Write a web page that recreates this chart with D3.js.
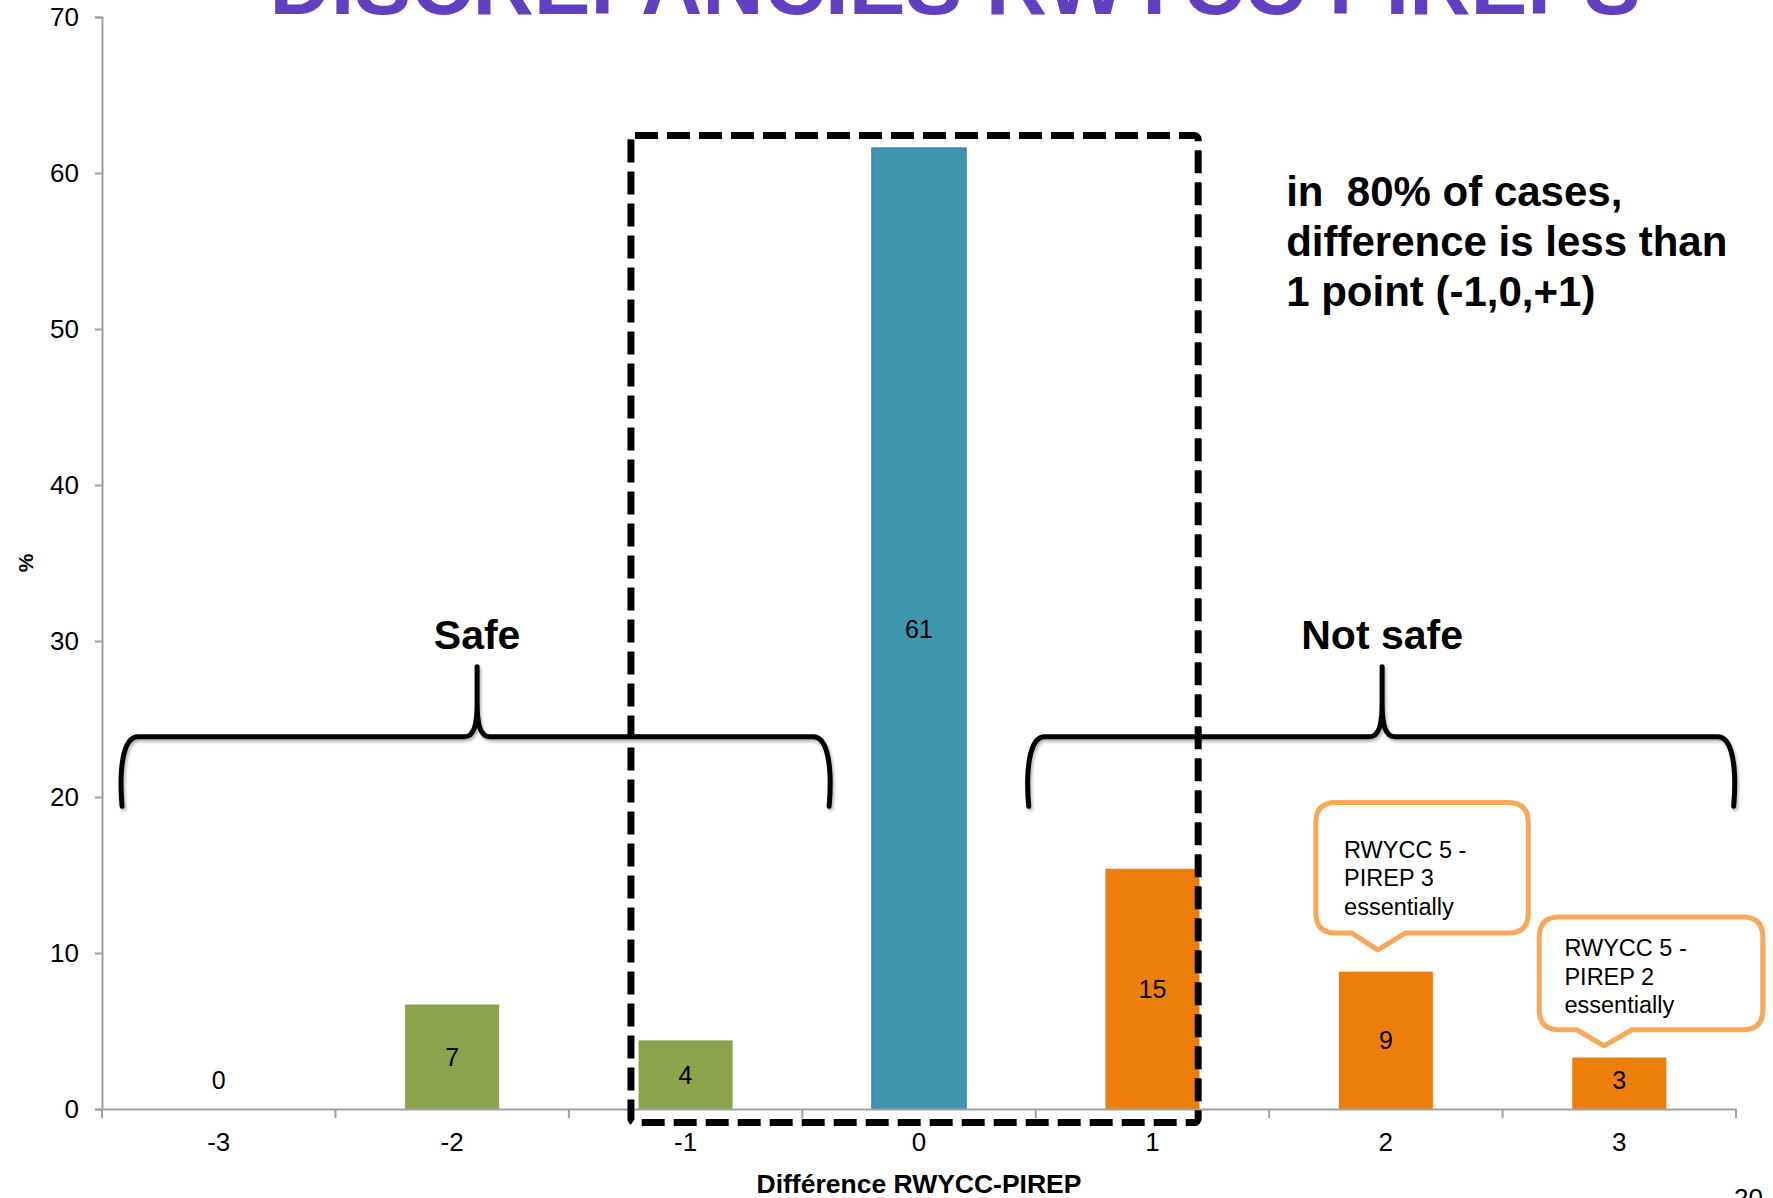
<!DOCTYPE html>
<html>
<head>
<meta charset="utf-8">
<script src="https://cdn.jsdelivr.net/npm/d3@7"></script>
<style>
  html, body { margin: 0; padding: 0; background: #fff; overflow: hidden; }
  svg { display: block; font-family: "Liberation Sans", Arial, Helvetica, sans-serif; }
</style>
</head>
<body>
<svg id="chart" width="1773" height="1198"></svg>
<script>
// Données
const categories = [-3, -2, -1, 0, 1, 2, 3];
const values = [0, 6.7, 4.4, 61.6, 15.4, 8.8, 3.3];
const valueLabels = ['0', '7', '4', '61', '15', '9', '3'];
const barColors = ['#8ba34a', '#8ba34a', '#8ba34a', '#3e96ae', '#ec7f09', '#ec7f09', '#ec7f09'];
const yTicks = [0, 10, 20, 30, 40, 50, 60, 70];

const titleText = 'DISCREPANCIES RWYCC PIREPS';
const xTitle = 'Différence RWYCC-PIREP';
const yTitle = '%';
const noteLines = ['in  80% of cases,', 'difference is less than', '1 point (-1,0,+1)'];
const callout1 = ['RWYCC 5 -', 'PIREP 3', 'essentially'];
const callout2 = ['RWYCC 5 -', 'PIREP 2', 'essentially'];

const svg = d3.select('#chart');
const plotLeft = 102, plotRight = 1736, plotTop = 17, plotBottom = 1109;

const x = d3.scaleBand().domain(categories).range([plotLeft, plotRight]).padding(0);
// position continue en unités de la variable (pour les annotations)
const xc = d3.scaleLinear().domain([-3.5, 3.5]).range([plotLeft, plotRight]);
const y = d3.scaleLinear().domain([0, 70]).range([plotBottom, plotTop]);

const defs = svg.append('defs');
const shadow = defs.append('filter').attr('id', 'shadow')
    .attr('x', '-5%').attr('y', '-20%').attr('width', '110%').attr('height', '140%');
shadow.append('feDropShadow').attr('dx', 1.5).attr('dy', 2.5).attr('stdDeviation', 1.8)
    .attr('flood-color', '#000').attr('flood-opacity', 0.3);

// Titre (coupé en haut)
svg.append('text')
    .attr('x', 955).attr('y', 14)
    .attr('text-anchor', 'middle')
    .attr('font-size', 85).attr('font-weight', 'bold')
    .attr('fill', '#6040c0')
    .text(titleText);

// Axe Y
const yAxis = svg.append('g')
    .attr('transform', `translate(${plotLeft},0)`)
    .call(d3.axisLeft(y).tickValues(yTicks).tickSize(7).tickPadding(16));
yAxis.select('.domain').attr('stroke', '#a0a0a0').attr('stroke-width', 2);
yAxis.selectAll('.tick line').attr('stroke', '#a0a0a0').attr('stroke-width', 2);
yAxis.selectAll('.tick text').attr('font-size', 26).attr('fill', '#000')
    .attr('font-family', '"Liberation Sans", Arial, sans-serif');

// Barres
svg.append('g').selectAll('rect')
    .data(categories)
    .join('rect')
    .attr('x', (d) => x(d) + x.bandwidth() * 0.2985)
    .attr('width', x.bandwidth() * 0.403)
    .attr('y', (d, i) => y(values[i]))
    .attr('height', (d, i) => y(0) - y(values[i]))
    .attr('fill', (d, i) => barColors[i])
    .attr('stroke', (d, i) => i === 3 ? '#4a7ebb' : 'none')
    .attr('stroke-width', 1.5);

// Axe X
const xAxis = svg.append('g')
    .attr('transform', `translate(0,${plotBottom})`)
    .call(d3.axisBottom(x).tickSize(0).tickPadding(24));
xAxis.select('.domain').attr('stroke', '#a0a0a0').attr('stroke-width', 2);
xAxis.selectAll('.tick text').attr('font-size', 26).attr('fill', '#000')
    .attr('font-family', '"Liberation Sans", Arial, sans-serif');
// graduations entre les catégories
const bounds = categories.map((c) => x(c)).concat([x(categories[categories.length - 1]) + x.bandwidth()]);
xAxis.selectAll('.bound')
    .data(bounds)
    .join('line')
    .attr('class', 'bound')
    .attr('x1', (d) => d).attr('x2', (d) => d)
    .attr('y1', 0).attr('y2', 9)
    .attr('stroke', '#a0a0a0').attr('stroke-width', 2);

// Étiquettes des barres
svg.append('g').selectAll('text')
    .data(categories)
    .join('text')
    .attr('x', (d) => x(d) + x.bandwidth() / 2)
    .attr('y', (d, i) => Math.min((y(values[i]) + y(0)) / 2, y(0) - 29))
    .attr('dy', '0.36em')
    .attr('text-anchor', 'middle')
    .attr('font-size', 25)
    .attr('fill', '#000')
    .text((d, i) => valueLabels[i]);

// Titres d'axes
svg.append('text')
    .attr('x', (plotLeft + plotRight) / 2).attr('y', 1193)
    .attr('text-anchor', 'middle')
    .attr('font-size', 26.5).attr('font-weight', 'bold')
    .text(xTitle);
svg.append('text')
    .attr('transform', `translate(33,${(plotTop + plotBottom) / 2}) rotate(-90)`)
    .attr('text-anchor', 'middle')
    .attr('font-size', 21).attr('font-weight', 'bold')
    .text(yTitle);

// Accolades
function brace(x0, x1, xm, yh, yt, ye) {
    const X0 = xc(x0), X1 = xc(x1), XM = xc(xm);
    const YH = y(yh), YT = y(yt), YE = y(ye);
    return `M${X0},${YE} C${X0 - 3},${YH + 35} ${X0},${YH} ${X0 + 16},${YH}` +
        ` L${XM - 13},${YH} C${XM - 3},${YH} ${XM},${YH - 12} ${XM},${YH - 34} L${XM},${YT}` +
        ` M${XM},${YH - 34} C${XM},${YH - 12} ${XM + 3},${YH} ${XM + 13},${YH}` +
        ` L${X1 - 16},${YH} C${X1},${YH} ${X1 + 3},${YH + 35} ${X1},${YE}`;
}
const braces = [
    { x0: -3.414, x1: -0.385, xm: -1.893, label: 'Safe' },
    { x0: 0.47, x1: 3.49, xm: 1.984, label: 'Not safe' }
];
svg.append('g').selectAll('path')
    .data(braces)
    .join('path')
    .attr('d', (b) => brace(b.x0, b.x1, b.xm, 23.86, 28.35, 19.4))
    .attr('fill', 'none')
    .attr('stroke', '#000')
    .attr('stroke-width', 5)
    .attr('stroke-linecap', 'round')
    .attr('stroke-linejoin', 'round')
    .attr('filter', 'url(#shadow)');
svg.append('g').selectAll('text')
    .data(braces)
    .join('text')
    .attr('x', (b) => xc(b.xm))
    .attr('y', y(29.5))
    .attr('text-anchor', 'middle')
    .attr('font-size', 41).attr('font-weight', 'bold')
    .text((b) => b.label);

// Cadre pointillé (-1, 0, +1)
svg.append('rect')
    .attr('x', xc(-1.234)).attr('y', y(62.4))
    .attr('width', xc(1.196) - xc(-1.234))
    .attr('height', y(-0.87) - y(62.4))
    .attr('rx', 4)
    .attr('fill', 'none')
    .attr('stroke', '#000')
    .attr('stroke-width', 7)
    .attr('stroke-dasharray', '23 9');

// Note
svg.append('text')
    .attr('x', xc(1.573)).attr('y', y(57.9))
    .attr('font-size', 42).attr('font-weight', 'bold')
    .style('white-space', 'pre')
    .selectAll('tspan')
    .data(noteLines)
    .join('tspan')
    .attr('x', xc(1.573))
    .attr('dy', (d, i) => i === 0 ? 0 : 50)
    .text((d) => d);

// Bulles
function bubble(b) {
    const L = xc(b.x0), R = xc(b.x1), T = y(b.y0), B = y(b.y1);
    const r = 20;
    const p0 = xc(b.p0), p1 = xc(b.p1), pt = xc(b.pt), PY = y(b.py);
    return `M${L + r},${T} L${R - r},${T} Q${R},${T} ${R},${T + r} L${R},${B - r} Q${R},${B} ${R - r},${B}` +
        ` L${p1},${B} L${pt},${PY} L${p0},${B} L${L + r},${B} Q${L},${B} ${L},${B - r} L${L},${T + r} Q${L},${T} ${L + r},${T} Z`;
}
const bubbles = [
    { x0: 1.70, x1: 2.61, y0: 19.65, y1: 11.28, p0: 1.854, p1: 2.083, pt: 1.965, py: 10.2,
      tx: 1.821, ty: 16.12, lines: callout1 },
    { x0: 2.657, x1: 3.615, y0: 12.3, y1: 5.08, p0: 2.818, p1: 3.054, pt: 2.935, py: 4.05,
      tx: 2.765, ty: 9.78, lines: callout2 }
];
const bg = svg.append('g').selectAll('g')
    .data(bubbles)
    .join('g');
bg.append('path')
    .attr('d', bubble)
    .attr('fill', '#fff')
    .attr('stroke', '#f9a859')
    .attr('stroke-width', 5)
    .attr('stroke-linejoin', 'round');
bg.append('text')
    .attr('font-size', 23.5)
    .attr('fill', '#000')
    .attr('y', (b) => y(b.ty))
    .selectAll('tspan')
    .data((b) => b.lines.map((t) => ({ t, b })))
    .join('tspan')
    .attr('x', (d) => xc(d.b.tx))
    .attr('dy', (d, i) => i === 0 ? 0 : 28.5)
    .text((d) => d.t);

// Numéro de page (coupé)
svg.append('text')
    .attr('x', 1734).attr('y', 1207)
    .attr('font-size', 26)
    .text('20');
</script>
</body>
</html>
